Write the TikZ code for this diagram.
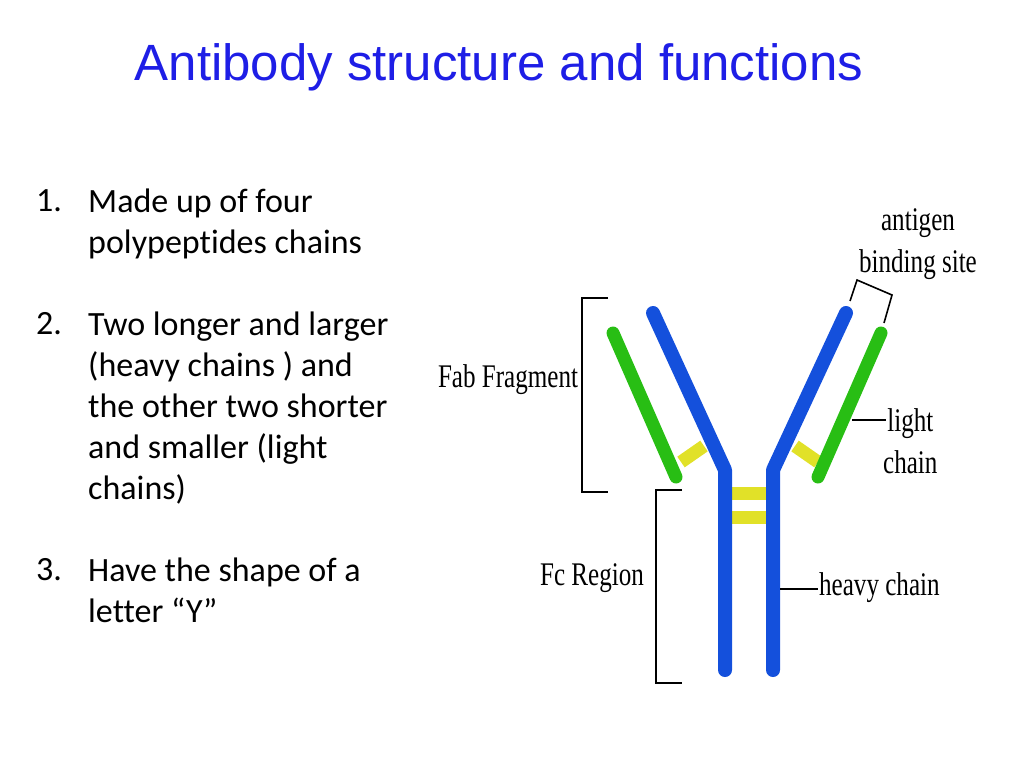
\documentclass[tikz,border=0pt]{standalone}
\usepackage{fontspec}
\setmainfont[Ligatures={NoCommon}]{Carlito}
\newfontfamily\titlefont{Liberation Sans}
\newfontfamily\labfont{Liberation Serif}
\begin{document}
\begin{tikzpicture}[x=1pt,y=-1pt,
  heavy/.style={line width=14pt,draw={rgb,255:red,20;green,80;blue,220},line cap=round,line join=round},
  light/.style={line width=13pt,draw={rgb,255:red,40;green,190;blue,20},line cap=round},
  yel/.style={line width=13pt,draw={rgb,255:red,225;green,225;blue,40}},
  brk/.style={line width=1.6pt,draw=black},
  lab/.style={font=\labfont\fontsize{33}{42}\selectfont,xscale=0.76,align=left,inner sep=0pt},
  body/.style={font=\fontsize{34}{41}\selectfont,anchor=north west,align=left,inner sep=0pt}]
\useasboundingbox (0,0) rectangle (1024,768);
\node[font=\titlefont\fontsize{51}{55}\selectfont,text={rgb,255:red,30;green,30;blue,230}] (title) at (499,67) {Antibody structure and functions};
\node[body] (n1) at (36,189) {1.};
\node[body] (t1) at (88,189) {Made up of four\\polypeptides chains};
\node[body] (n2) at (36,312) {2.};
\node[body] (t2) at (88,312) {Two longer and larger\\(heavy chains ) and\\the other two shorter\\and smaller (light\\chains)};
\node[body] (n3) at (36,558) {3.};
\node[body] (t3) at (88,558) {Have the shape of a\\letter “Y”};
% yellow bonds
\draw[yel] (681,462) -- (704,446);
\draw[yel] (795,446) -- (818,462);
\draw[yel] (730,493) -- (768,493);
\draw[yel] (730,517) -- (768,517);
% chains
\draw[light] (613,333) -- (676,477);
\draw[light] (881,333) -- (818,477);
\draw[heavy] (653,313) -- (725,470) -- (725,670);
\draw[heavy] (846,313) -- (773,470) -- (773,670);
% brackets
\draw[brk] (608,298) -- (582,298) -- (582,492) -- (608,492);
\draw[brk] (682,490) -- (656,490) -- (656,683) -- (682,683);
\draw[brk] (850,301) -- (857,280) -- (892,295) -- (884,323);
\coordinate (lc) at (852,420);
\coordinate (hc) at (780,589);
\draw[brk] (lc) -- ++(34,0);
\draw[brk] (hc) -- ++(38,0);
\node[lab] (fab) at (508,380) {Fab Fragment};
\node[lab] (fc) at (592,578) {Fc Region};
\node[lab,align=center] (ag) at (918,244) {antigen\\binding site};
\node[lab,align=center,anchor=west] (lt) at (883,441) {light\\chain};
\node[lab,anchor=west] (hv) at (819,588) {heavy chain};
\end{tikzpicture}
\end{document}
